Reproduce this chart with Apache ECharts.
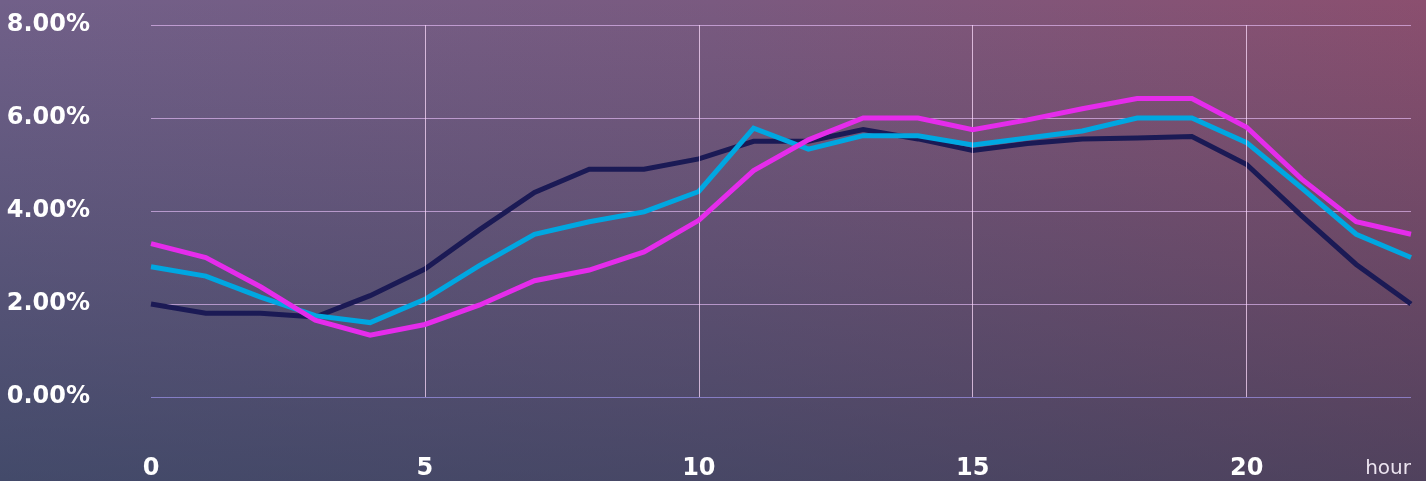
<!DOCTYPE html>
<html>
<head>
<meta charset="utf-8">
<title>Hourly share</title>
<script src="https://cdn.jsdelivr.net/npm/echarts@6/dist/echarts.min.js"></script>
<style>
  html, body { margin: 0; padding: 0; }
  body {
    width: 1426px; height: 481px; overflow: hidden;
    background:
      linear-gradient(to bottom, rgba(21,52,75,0) 0%, rgba(21,52,75,0.5) 100%),
      linear-gradient(to right, #716089 0%, #7a5a80 50%, #8b4f6f 100%);
  }
  #chart { width: 1426px; height: 481px; }
</style>
</head>
<body>
<div id="chart"></div>
<script>
// Hours of the day (x) and share of daily activity per hour, in percent (y)
const hours = [0, 1, 2, 3, 4, 5, 6, 7, 8, 9, 10, 11, 12, 13, 14, 15, 16, 17, 18, 19, 20, 21, 22, 23];
const navySeries    = [2.00, 1.80, 1.80, 1.72, 2.18, 2.75, 3.60, 4.40, 4.90, 4.90, 5.12, 5.50, 5.50, 5.75, 5.55, 5.30, 5.45, 5.55, 5.57, 5.60, 5.00, 3.90, 2.85, 2.00];
const cyanSeries    = [2.80, 2.60, 2.15, 1.75, 1.60, 2.10, 2.83, 3.50, 3.77, 3.98, 4.42, 5.78, 5.33, 5.62, 5.62, 5.42, 5.57, 5.72, 6.00, 6.00, 5.47, 4.50, 3.50, 3.00];
const magentaSeries = [3.30, 3.00, 2.37, 1.65, 1.33, 1.56, 1.98, 2.50, 2.73, 3.12, 3.80, 4.87, 5.53, 6.00, 6.00, 5.75, 5.96, 6.20, 6.42, 6.42, 5.80, 4.69, 3.77, 3.50];

// Axis ticks
const xTicks = [0, 5, 10, 15, 20];
const yTicks = [0, 2, 4, 6, 8];

const pairs = vals => hours.map((h, i) => [h, vals[i]]);

const labelFont = 'DejaVu Sans';

const chart = echarts.init(document.getElementById('chart'), null, { renderer: 'canvas' });

const lineSeries = (name, vals, color, z) => ({
  name: name,
  type: 'line',
  data: pairs(vals),
  symbol: 'none',
  z: z,
  lineStyle: { color: color, width: 5, join: 'miter' },
  emphasis: { disabled: true }
});

// Vertical grid lines at the labelled hours (none at the left edge)
const vGridLines = {
  type: 'line',
  data: [],
  silent: true,
  z: 1,
  markLine: {
    silent: true,
    symbol: 'none',
    label: { show: false },
    lineStyle: { color: 'rgba(255,222,255,0.72)', width: 1, type: 'solid' },
    data: xTicks.filter(t => t > 0).map(t => ({ xAxis: t }))
  }
};

chart.setOption({
  backgroundColor: 'transparent',
  animation: false,
  grid: { left: 151, right: 15, top: 25, bottom: 84, containLabel: false, outerBoundsMode: 'none' },
  xAxis: {
    type: 'value',
    min: 0,
    max: 23,
    interval: 5,
    name: 'hour',
    nameLocation: 'end',
    nameGap: 0,
    nameTextStyle: {
      color: '#ece4f0',
      fontFamily: labelFont,
      fontSize: 20,
      align: 'right',
      verticalAlign: 'top',
      padding: [62, 0, 0, 0]
    },
    axisLine: { show: false },
    axisTick: { show: false },
    splitLine: { show: false },
    axisLabel: {
      color: '#ffffff',
      fontFamily: labelFont,
      fontWeight: 'bold',
      fontSize: 24,
      margin: 60,
      showMaxLabel: false,
      formatter: v => (xTicks.indexOf(v) >= 0 ? String(v) : '')
    }
  },
  yAxis: {
    type: 'value',
    min: yTicks[0],
    max: yTicks[yTicks.length - 1],
    interval: 2,
    axisLine: { show: false },
    axisTick: { show: false },
    splitLine: {
      show: true,
      lineStyle: {
        width: 1,
        color: ['rgba(170,160,255,0.6)', 'rgba(238,196,255,0.62)', 'rgba(238,196,255,0.62)', 'rgba(238,196,255,0.62)', 'rgba(238,196,255,0.62)']
      }
    },
    axisLabel: {
      color: '#ffffff',
      fontFamily: labelFont,
      fontWeight: 'bold',
      fontSize: 24,
      margin: 61,
      formatter: v => v.toFixed(2) + '%'
    }
  },
  series: [
    vGridLines,
    lineSeries('Navy', navySeries, '#1b1a55', 3),
    lineSeries('Cyan', cyanSeries, '#00a7e1', 4),
    lineSeries('Magenta', magentaSeries, '#e52ceb', 5)
  ]
});
</script>
</body>
</html>
